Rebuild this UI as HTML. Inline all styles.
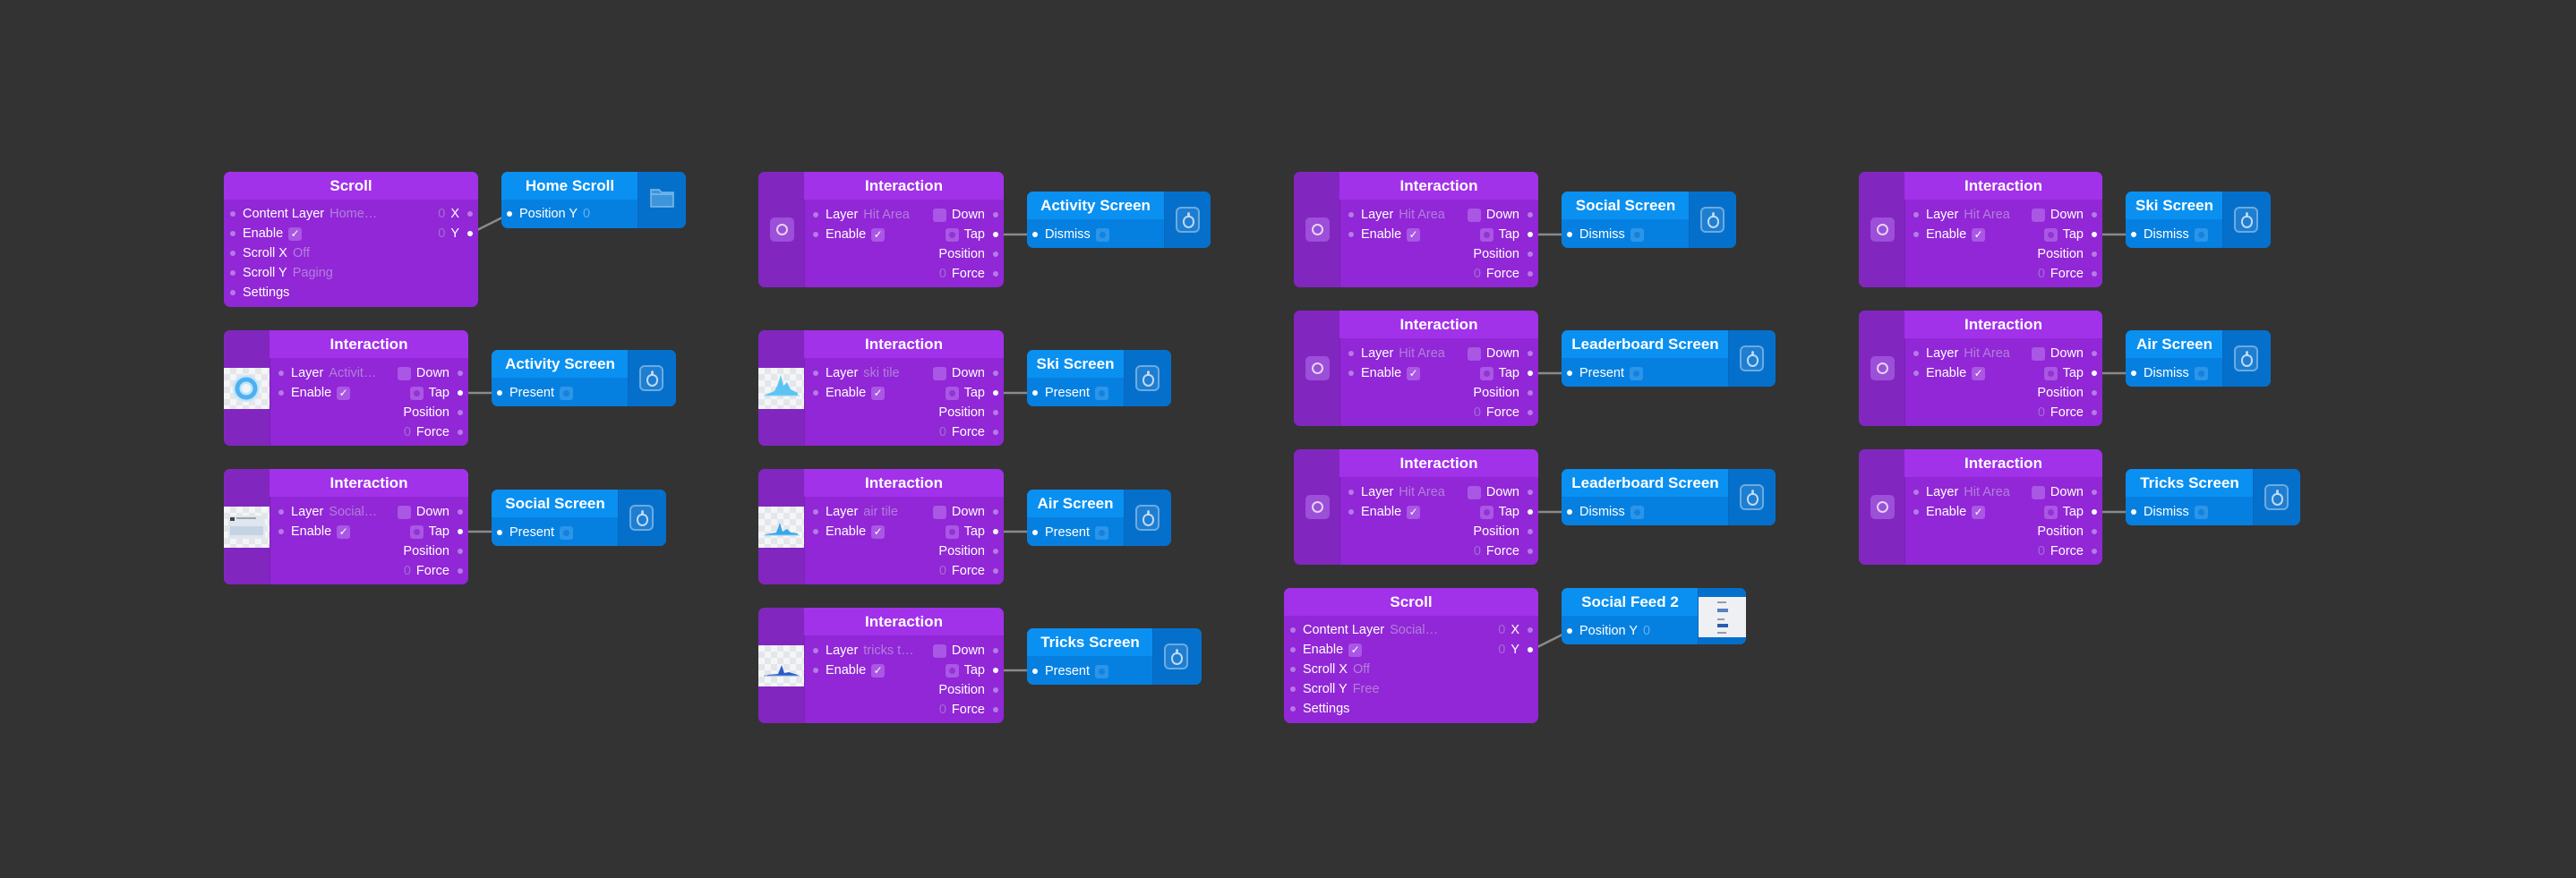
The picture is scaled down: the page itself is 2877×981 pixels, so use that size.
<!DOCTYPE html>
<html><head><meta charset="utf-8">
<style>
body{margin:0;background:#333333;width:2877px;height:981px;position:relative;overflow:hidden;font-family:"Liberation Sans",sans-serif;}
.n{position:absolute;border-radius:7px;overflow:hidden;}
.pu{background:#9127d6;}
.lp{position:absolute;left:0;top:0;bottom:0;width:51px;background:#8226c0;border-right:1px solid #7a22b4;}
.ph{position:absolute;top:0;right:0;height:31px;background:#a231ea;color:#fff;font-weight:bold;font-size:17px;line-height:31px;text-align:center;}
.bl{background:#0680e0;}
.bh{position:absolute;left:0;top:0;height:31px;background:#0a90f1;color:#fff;font-weight:bold;font-size:17px;line-height:31px;text-align:center;}
.ip{position:absolute;top:0;right:0;bottom:0;width:51px;background:#0570cc;border-left:1px solid #0668bd;}
.r{position:absolute;height:16px;line-height:16px;font-size:14.5px;color:#fff;white-space:nowrap;display:flex;align-items:center;}
.d{width:6px;height:6px;border-radius:50%;background:#b67ae4;display:inline-block;flex:none;}
.bl .d{background:#fff;}
.w{background:#fff !important;}
.L .d{margin-right:8px;}
.R .d{margin-left:9px;}
.v{color:#b27fdc;margin-left:6px;}
.vb{color:#5fb0f2;margin-left:6px;}
.z{color:#a56ad4;margin-right:6px;}
.cb{width:15px;height:15px;border-radius:3px;background:#a957e4;display:inline-block;position:relative;flex:none;color:#fff;font-size:12px;line-height:15px;text-align:center;}
.cb.k{margin-left:6px;}
.cb.dn{margin-right:6px;}
.cb.t{margin-right:6px;}
.cb.t:after{content:"";position:absolute;left:4px;top:4px;width:7px;height:7px;border-radius:50%;background:#9333d3;}
.bb{width:15px;height:15px;border-radius:3px;background:#2c95e8;display:inline-block;position:relative;margin-left:6px;}
.bb:after{content:"";position:absolute;left:4px;top:4px;width:7px;height:7px;border-radius:50%;background:#1282e0;}
.hi{position:absolute;left:13px;top:51px;width:27px;height:27px;border-radius:5px;background:#9c4fd8;}
.hi:after{content:"";position:absolute;left:7px;top:7px;width:9px;height:9px;border-radius:50%;border:2px solid #e6d2f5;}
.th{position:absolute;left:0;top:42px;width:51px;height:46px;background-color:#f4f5f7;background-image:linear-gradient(45deg,#e4e6ea 25%,transparent 25%,transparent 75%,#e4e6ea 75%),linear-gradient(45deg,#e4e6ea 25%,transparent 25%,transparent 75%,#e4e6ea 75%);background-size:14px 14px;background-position:0 0,7px 7px;overflow:hidden;}
.ai{position:absolute;left:12px;top:17px;width:23px;height:25px;border-radius:6px;border:2px solid rgba(255,255,255,.35);background:rgba(255,255,255,.1);}
.ai:after{content:"";position:absolute;left:6px;top:8px;width:9px;height:10px;border-radius:45% 45% 50% 50%;border:2px solid rgba(230,240,255,.8);}
.ai:before{content:"";position:absolute;left:11px;top:4px;width:3px;height:5px;border-radius:50%;background:rgba(230,240,255,.8);}
svg.c{position:absolute;left:0;top:0;}
</style></head><body>
<svg class="c" width="2877" height="981">
<g stroke="#8a8a8a" stroke-width="2.5" fill="none">
<line x1="525" y1="261" x2="569" y2="239"/>
<line x1="514" y1="439" x2="558" y2="439"/>
<line x1="514" y1="594" x2="558" y2="594"/>
<line x1="1112" y1="262" x2="1156" y2="262"/>
<line x1="1112" y1="439" x2="1156" y2="439"/>
<line x1="1112" y1="594" x2="1156" y2="594"/>
<line x1="1112" y1="749" x2="1156" y2="749"/>
<line x1="1709" y1="262" x2="1753" y2="262"/>
<line x1="1709" y1="417" x2="1753" y2="417"/>
<line x1="1709" y1="572" x2="1753" y2="572"/>
<line x1="1709" y1="727" x2="1753" y2="705"/>
<line x1="2339" y1="262" x2="2383" y2="262"/>
<line x1="2339" y1="417" x2="2383" y2="417"/>
<line x1="2339" y1="572" x2="2383" y2="572"/>
</g></svg>

<!-- Column 1 -->
<div class="n pu" style="left:250px;top:192px;width:284px;height:151px">
<div class="ph" style="left:0">Scroll</div>
<div class="r L" style="left:7px;top:39px"><i class="d"></i>Content Layer<span class="v">Home…</span></div>
<div class="r L" style="left:7px;top:61px"><i class="d"></i>Enable<span class="cb k">✓</span></div>
<div class="r L" style="left:7px;top:83px"><i class="d"></i>Scroll X<span class="v">Off</span></div>
<div class="r L" style="left:7px;top:105px"><i class="d"></i>Scroll Y<span class="v">Paging</span></div>
<div class="r L" style="left:7px;top:127px"><i class="d"></i>Settings</div>
<div class="r R" style="right:6px;top:39px"><span class="z">0</span>X<i class="d"></i></div>
<div class="r R" style="right:6px;top:61px"><span class="z">0</span>Y<i class="d w"></i></div>
</div>
<div class="n bl" style="left:560px;top:192px;width:206px;height:63px">
<div class="bh" style="width:153px">Home Scroll</div>
<div class="ip" style="width:53px"><svg width="53" height="63"><path d="M14 20 h9 l3 3 h13 v16 h-25z" fill="#3d95db" stroke="#7fbbea" stroke-width="1.5"/><line x1="14" y1="25" x2="39" y2="25" stroke="#7fbbea" stroke-width="1.5"/></svg></div>
<div class="r L" style="left:6px;top:39px"><i class="d"></i>Position Y<span class="vb">0</span></div>
</div>

<div class="n pu" style="left:250px;top:369px;width:273px;height:129px">
<div class="lp"></div><div class="ph" style="left:51px">Interaction</div>
<div class="th"><svg width="51" height="46"><circle cx="25" cy="23" r="15" fill="#bfe6fb"/><circle cx="25" cy="23" r="10" fill="none" stroke="#4fb0f0" stroke-width="5"/><circle cx="25" cy="23" r="5" fill="#eef5fb"/></svg></div>
<div class="r L" style="left:61px;top:40px"><i class="d"></i>Layer<span class="v">Activit…</span></div>
<div class="r L" style="left:61px;top:62px"><i class="d"></i>Enable<span class="cb k">✓</span></div>
<div class="r R" style="right:6px;top:40px"><span class="cb dn"></span>Down<i class="d"></i></div>
<div class="r R" style="right:6px;top:62px"><span class="cb t"></span>Tap<i class="d w"></i></div>
<div class="r R" style="right:6px;top:84px">Position<i class="d"></i></div>
<div class="r R" style="right:6px;top:106px"><span class="z">0</span>Force<i class="d"></i></div>
</div>
<div class="n bl" style="left:549px;top:391px;width:206px;height:63px">
<div class="bh" style="width:153px">Activity Screen</div><div class="ip" style="width:53px"><i class="ai"></i></div>
<div class="r L" style="left:6px;top:40px"><i class="d"></i>Present<span class="bb"></span></div>
</div>

<div class="n pu" style="left:250px;top:524px;width:273px;height:129px">
<div class="lp"></div><div class="ph" style="left:51px">Interaction</div>
<div class="th"><svg width="51" height="46"><rect x="5" y="10" width="41" height="26" fill="#dfe6ee"/><rect x="7" y="12" width="5" height="4" fill="#444"/><rect x="14" y="12" width="22" height="2" fill="#9aa"/><rect x="7" y="22" width="37" height="10" fill="#c5d3e2"/></svg></div>
<div class="r L" style="left:61px;top:40px"><i class="d"></i>Layer<span class="v">Social…</span></div>
<div class="r L" style="left:61px;top:62px"><i class="d"></i>Enable<span class="cb k">✓</span></div>
<div class="r R" style="right:6px;top:40px"><span class="cb dn"></span>Down<i class="d"></i></div>
<div class="r R" style="right:6px;top:62px"><span class="cb t"></span>Tap<i class="d w"></i></div>
<div class="r R" style="right:6px;top:84px">Position<i class="d"></i></div>
<div class="r R" style="right:6px;top:106px"><span class="z">0</span>Force<i class="d"></i></div>
</div>
<div class="n bl" style="left:549px;top:547px;width:195px;height:63px">
<div class="bh" style="width:142px">Social Screen</div><div class="ip" style="width:53px"><i class="ai"></i></div>
<div class="r L" style="left:6px;top:40px"><i class="d"></i>Present<span class="bb"></span></div>
</div>

<!-- Column 2 -->
<div class="n pu" style="left:847px;top:192px;width:274px;height:129px">
<div class="lp"></div><div class="ph" style="left:51px">Interaction</div><i class="hi"></i>
<div class="r L" style="left:61px;top:40px"><i class="d"></i>Layer<span class="v">Hit Area</span></div>
<div class="r L" style="left:61px;top:62px"><i class="d"></i>Enable<span class="cb k">✓</span></div>
<div class="r R" style="right:6px;top:40px"><span class="cb dn"></span>Down<i class="d"></i></div>
<div class="r R" style="right:6px;top:62px"><span class="cb t"></span>Tap<i class="d w"></i></div>
<div class="r R" style="right:6px;top:84px">Position<i class="d"></i></div>
<div class="r R" style="right:6px;top:106px"><span class="z">0</span>Force<i class="d"></i></div>
</div>
<div class="n bl" style="left:1147px;top:214px;width:205px;height:63px">
<div class="bh" style="width:153px">Activity Screen</div><div class="ip"><i class="ai"></i></div>
<div class="r L" style="left:6px;top:40px"><i class="d"></i>Dismiss<span class="bb"></span></div>
</div>

<div class="n pu" style="left:847px;top:369px;width:274px;height:129px">
<div class="lp"></div><div class="ph" style="left:51px">Interaction</div>
<div class="th"><svg width="51" height="46"><path d="M8 30 L18 26 L22 18 L25 8 L28 20 L32 16 L36 24 L44 28 L44 31 L8 31z" fill="#5cc4f2"/><line x1="6" y1="31" x2="46" y2="31" stroke="#8fd3f5"/></svg></div>
<div class="r L" style="left:61px;top:40px"><i class="d"></i>Layer<span class="v">ski tile</span></div>
<div class="r L" style="left:61px;top:62px"><i class="d"></i>Enable<span class="cb k">✓</span></div>
<div class="r R" style="right:6px;top:40px"><span class="cb dn"></span>Down<i class="d"></i></div>
<div class="r R" style="right:6px;top:62px"><span class="cb t"></span>Tap<i class="d w"></i></div>
<div class="r R" style="right:6px;top:84px">Position<i class="d"></i></div>
<div class="r R" style="right:6px;top:106px"><span class="z">0</span>Force<i class="d"></i></div>
</div>
<div class="n bl" style="left:1147px;top:391px;width:161px;height:63px">
<div class="bh" style="width:108px">Ski Screen</div><div class="ip" style="width:52px"><i class="ai"></i></div>
<div class="r L" style="left:6px;top:40px"><i class="d"></i>Present<span class="bb"></span></div>
</div>

<div class="n pu" style="left:847px;top:524px;width:274px;height:129px">
<div class="lp"></div><div class="ph" style="left:51px">Interaction</div>
<div class="th"><svg width="51" height="46"><path d="M8 31 L20 29 L24 18 L27 28 L32 25 L36 29 L44 30 L44 32 L8 32z" fill="#3aa6ea"/><line x1="6" y1="32" x2="46" y2="32" stroke="#8fd3f5"/></svg></div>
<div class="r L" style="left:61px;top:40px"><i class="d"></i>Layer<span class="v">air tile</span></div>
<div class="r L" style="left:61px;top:62px"><i class="d"></i>Enable<span class="cb k">✓</span></div>
<div class="r R" style="right:6px;top:40px"><span class="cb dn"></span>Down<i class="d"></i></div>
<div class="r R" style="right:6px;top:62px"><span class="cb t"></span>Tap<i class="d w"></i></div>
<div class="r R" style="right:6px;top:84px">Position<i class="d"></i></div>
<div class="r R" style="right:6px;top:106px"><span class="z">0</span>Force<i class="d"></i></div>
</div>
<div class="n bl" style="left:1147px;top:547px;width:161px;height:63px">
<div class="bh" style="width:108px">Air Screen</div><div class="ip" style="width:52px"><i class="ai"></i></div>
<div class="r L" style="left:6px;top:40px"><i class="d"></i>Present<span class="bb"></span></div>
</div>

<div class="n pu" style="left:847px;top:679px;width:274px;height:129px">
<div class="lp"></div><div class="ph" style="left:51px">Interaction</div>
<div class="th"><svg width="51" height="46"><path d="M10 33 L22 32 L26 22 L29 31 L34 30 L44 33 L44 34 L10 34z" fill="#2a5cc8"/><line x1="6" y1="34" x2="46" y2="34" stroke="#7aa0e0"/></svg></div>
<div class="r L" style="left:61px;top:40px"><i class="d"></i>Layer<span class="v">tricks t…</span></div>
<div class="r L" style="left:61px;top:62px"><i class="d"></i>Enable<span class="cb k">✓</span></div>
<div class="r R" style="right:6px;top:40px"><span class="cb dn"></span>Down<i class="d"></i></div>
<div class="r R" style="right:6px;top:62px"><span class="cb t"></span>Tap<i class="d w"></i></div>
<div class="r R" style="right:6px;top:84px">Position<i class="d"></i></div>
<div class="r R" style="right:6px;top:106px"><span class="z">0</span>Force<i class="d"></i></div>
</div>
<div class="n bl" style="left:1147px;top:702px;width:195px;height:63px">
<div class="bh" style="width:141px">Tricks Screen</div><div class="ip" style="width:54px"><i class="ai"></i></div>
<div class="r L" style="left:6px;top:40px"><i class="d"></i>Present<span class="bb"></span></div>
</div>

<!-- Column 3 -->
<div class="n pu" style="left:1445px;top:192px;width:273px;height:129px">
<div class="lp"></div><div class="ph" style="left:51px">Interaction</div><i class="hi"></i>
<div class="r L" style="left:61px;top:40px"><i class="d"></i>Layer<span class="v">Hit Area</span></div>
<div class="r L" style="left:61px;top:62px"><i class="d"></i>Enable<span class="cb k">✓</span></div>
<div class="r R" style="right:6px;top:40px"><span class="cb dn"></span>Down<i class="d"></i></div>
<div class="r R" style="right:6px;top:62px"><span class="cb t"></span>Tap<i class="d w"></i></div>
<div class="r R" style="right:6px;top:84px">Position<i class="d"></i></div>
<div class="r R" style="right:6px;top:106px"><span class="z">0</span>Force<i class="d"></i></div>
</div>
<div class="n bl" style="left:1744px;top:214px;width:195px;height:63px">
<div class="bh" style="width:143px">Social Screen</div><div class="ip" style="width:52px"><i class="ai"></i></div>
<div class="r L" style="left:6px;top:40px"><i class="d"></i>Dismiss<span class="bb"></span></div>
</div>

<div class="n pu" style="left:1445px;top:347px;width:273px;height:129px">
<div class="lp"></div><div class="ph" style="left:51px">Interaction</div><i class="hi"></i>
<div class="r L" style="left:61px;top:40px"><i class="d"></i>Layer<span class="v">Hit Area</span></div>
<div class="r L" style="left:61px;top:62px"><i class="d"></i>Enable<span class="cb k">✓</span></div>
<div class="r R" style="right:6px;top:40px"><span class="cb dn"></span>Down<i class="d"></i></div>
<div class="r R" style="right:6px;top:62px"><span class="cb t"></span>Tap<i class="d w"></i></div>
<div class="r R" style="right:6px;top:84px">Position<i class="d"></i></div>
<div class="r R" style="right:6px;top:106px"><span class="z">0</span>Force<i class="d"></i></div>
</div>
<div class="n bl" style="left:1744px;top:369px;width:239px;height:63px">
<div class="bh" style="width:187px">Leaderboard Screen</div><div class="ip" style="width:52px"><i class="ai"></i></div>
<div class="r L" style="left:6px;top:40px"><i class="d"></i>Present<span class="bb"></span></div>
</div>

<div class="n pu" style="left:1445px;top:502px;width:273px;height:129px">
<div class="lp"></div><div class="ph" style="left:51px">Interaction</div><i class="hi"></i>
<div class="r L" style="left:61px;top:40px"><i class="d"></i>Layer<span class="v">Hit Area</span></div>
<div class="r L" style="left:61px;top:62px"><i class="d"></i>Enable<span class="cb k">✓</span></div>
<div class="r R" style="right:6px;top:40px"><span class="cb dn"></span>Down<i class="d"></i></div>
<div class="r R" style="right:6px;top:62px"><span class="cb t"></span>Tap<i class="d w"></i></div>
<div class="r R" style="right:6px;top:84px">Position<i class="d"></i></div>
<div class="r R" style="right:6px;top:106px"><span class="z">0</span>Force<i class="d"></i></div>
</div>
<div class="n bl" style="left:1744px;top:524px;width:239px;height:63px">
<div class="bh" style="width:187px">Leaderboard Screen</div><div class="ip" style="width:52px"><i class="ai"></i></div>
<div class="r L" style="left:6px;top:40px"><i class="d"></i>Dismiss<span class="bb"></span></div>
</div>

<div class="n pu" style="left:1434px;top:657px;width:284px;height:151px">
<div class="ph" style="left:0">Scroll</div>
<div class="r L" style="left:7px;top:39px"><i class="d"></i>Content Layer<span class="v">Social…</span></div>
<div class="r L" style="left:7px;top:61px"><i class="d"></i>Enable<span class="cb k">✓</span></div>
<div class="r L" style="left:7px;top:83px"><i class="d"></i>Scroll X<span class="v">Off</span></div>
<div class="r L" style="left:7px;top:105px"><i class="d"></i>Scroll Y<span class="v">Free</span></div>
<div class="r L" style="left:7px;top:127px"><i class="d"></i>Settings</div>
<div class="r R" style="right:6px;top:39px"><span class="z">0</span>X<i class="d"></i></div>
<div class="r R" style="right:6px;top:61px"><span class="z">0</span>Y<i class="d w"></i></div>
</div>
<div class="n bl" style="left:1744px;top:657px;width:206px;height:63px">
<div class="bh" style="width:153px">Social Feed 2</div>
<div class="ip" style="width:53px"><div style="position:absolute;left:0;top:10px;width:53px;height:45px;background:#eef0f3"><svg width="53" height="45"><rect x="21" y="5" width="10" height="2" fill="#99a"/><rect x="21" y="13" width="12" height="4" fill="#5a7fc0"/><rect x="21" y="24" width="8" height="2" fill="#99a"/><rect x="21" y="30" width="12" height="4" fill="#2c5cb0"/><rect x="21" y="39" width="10" height="2" fill="#99a"/></svg></div></div>
<div class="r L" style="left:6px;top:40px"><i class="d"></i>Position Y<span class="vb">0</span></div>
</div>

<!-- Column 4 -->
<div class="n pu" style="left:2076px;top:192px;width:272px;height:129px">
<div class="lp"></div><div class="ph" style="left:51px">Interaction</div><i class="hi"></i>
<div class="r L" style="left:61px;top:40px"><i class="d"></i>Layer<span class="v">Hit Area</span></div>
<div class="r L" style="left:61px;top:62px"><i class="d"></i>Enable<span class="cb k">✓</span></div>
<div class="r R" style="right:6px;top:40px"><span class="cb dn"></span>Down<i class="d"></i></div>
<div class="r R" style="right:6px;top:62px"><span class="cb t"></span>Tap<i class="d w"></i></div>
<div class="r R" style="right:6px;top:84px">Position<i class="d"></i></div>
<div class="r R" style="right:6px;top:106px"><span class="z">0</span>Force<i class="d"></i></div>
</div>
<div class="n bl" style="left:2374px;top:214px;width:162px;height:63px">
<div class="bh" style="width:109px">Ski Screen</div><div class="ip" style="width:53px"><i class="ai"></i></div>
<div class="r L" style="left:6px;top:40px"><i class="d"></i>Dismiss<span class="bb"></span></div>
</div>

<div class="n pu" style="left:2076px;top:347px;width:272px;height:129px">
<div class="lp"></div><div class="ph" style="left:51px">Interaction</div><i class="hi"></i>
<div class="r L" style="left:61px;top:40px"><i class="d"></i>Layer<span class="v">Hit Area</span></div>
<div class="r L" style="left:61px;top:62px"><i class="d"></i>Enable<span class="cb k">✓</span></div>
<div class="r R" style="right:6px;top:40px"><span class="cb dn"></span>Down<i class="d"></i></div>
<div class="r R" style="right:6px;top:62px"><span class="cb t"></span>Tap<i class="d w"></i></div>
<div class="r R" style="right:6px;top:84px">Position<i class="d"></i></div>
<div class="r R" style="right:6px;top:106px"><span class="z">0</span>Force<i class="d"></i></div>
</div>
<div class="n bl" style="left:2374px;top:369px;width:162px;height:63px">
<div class="bh" style="width:109px">Air Screen</div><div class="ip" style="width:53px"><i class="ai"></i></div>
<div class="r L" style="left:6px;top:40px"><i class="d"></i>Dismiss<span class="bb"></span></div>
</div>

<div class="n pu" style="left:2076px;top:502px;width:272px;height:129px">
<div class="lp"></div><div class="ph" style="left:51px">Interaction</div><i class="hi"></i>
<div class="r L" style="left:61px;top:40px"><i class="d"></i>Layer<span class="v">Hit Area</span></div>
<div class="r L" style="left:61px;top:62px"><i class="d"></i>Enable<span class="cb k">✓</span></div>
<div class="r R" style="right:6px;top:40px"><span class="cb dn"></span>Down<i class="d"></i></div>
<div class="r R" style="right:6px;top:62px"><span class="cb t"></span>Tap<i class="d w"></i></div>
<div class="r R" style="right:6px;top:84px">Position<i class="d"></i></div>
<div class="r R" style="right:6px;top:106px"><span class="z">0</span>Force<i class="d"></i></div>
</div>
<div class="n bl" style="left:2374px;top:524px;width:195px;height:63px">
<div class="bh" style="width:143px">Tricks Screen</div><div class="ip" style="width:52px"><i class="ai"></i></div>
<div class="r L" style="left:6px;top:40px"><i class="d"></i>Dismiss<span class="bb"></span></div>
</div>
</body></html>
